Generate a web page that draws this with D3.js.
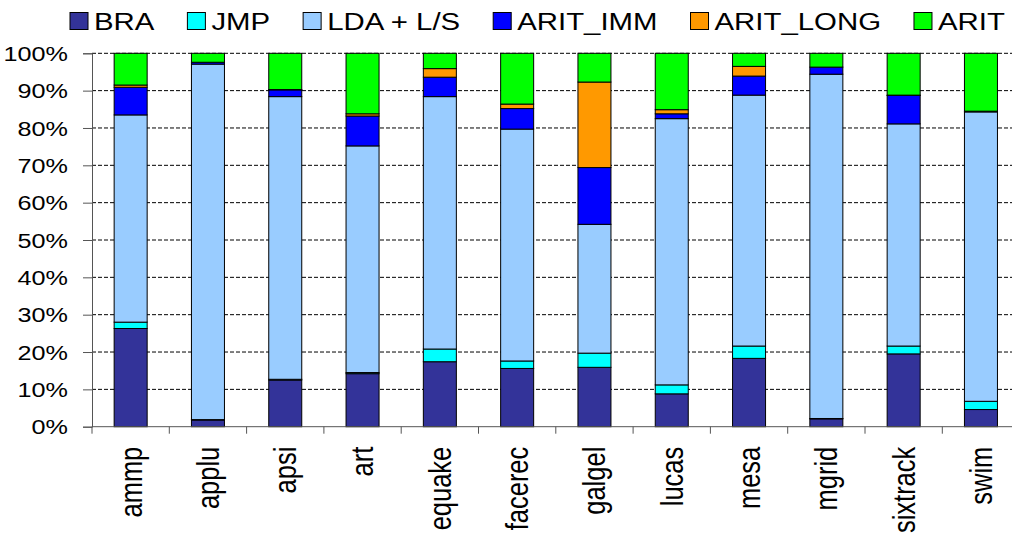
<!DOCTYPE html>
<html>
<head>
<meta charset="utf-8">
<script src="https://cdn.jsdelivr.net/npm/d3@7"></script>
<style>
  body { margin: 0; background: #fff; }
  text { font-family: "Liberation Sans", Arial, sans-serif; fill: #000; }
</style>
</head>
<body>
<div id="container"></div>
<script>
/** DATA */
const categories = ["ammp", "applu", "apsi", "art", "equake", "facerec", "galgel", "lucas", "mesa", "mgrid", "sixtrack", "swim"];
const seriesNames = ["BRA", "JMP", "LDA + L/S", "ARIT_IMM", "ARIT_LONG", "ARIT"];
const BRA      = [26.3, 1.8, 12.5, 14.2, 17.4, 15.6, 15.9, 8.8, 18.3, 2.1, 19.5, 4.6];
const JMP      = [1.7, 0.1, 0.2, 0.3, 3.4, 2.0, 3.8, 2.4, 3.3, 0.1, 2.1, 2.2];
const LDA_LS   = [55.5, 95.2, 75.7, 60.7, 67.6, 62.1, 34.5, 71.3, 67.2, 92.2, 59.5, 77.5];
const ARIT_IMM = [7.4, 0.5, 1.8, 8.0, 5.2, 5.5, 15.2, 1.3, 5.1, 1.9, 7.6, 0.2];
const ARIT_LONG= [0.6, 0, 0.1, 0.6, 2.3, 1.2, 22.9, 1.1, 2.6, 0, 0.1, 0];
const ARIT     = [8.5, 2.4, 9.7, 16.2, 4.1, 13.6, 7.7, 15.1, 3.5, 3.7, 11.2, 15.5];
const yTicks = [0, 0.1, 0.2, 0.3, 0.4, 0.5, 0.6, 0.7, 0.8, 0.9, 1];

/** CONSTANTS */
const width = 1012, height = 538;
const margin = { top: 53.3, bottom: 111.3, left: 92, right: -7.6 };
const colors = ["#333399", "#00ffff", "#99ccff", "#0000ff", "#ff9900", "#00ff00"];
const stretch = 1.2; // text in the original is a bit wide

const seriesValues = [BRA, JMP, LDA_LS, ARIT_IMM, ARIT_LONG, ARIT];
const rows = categories.map((c, i) => {
  const r = { cat: c };
  seriesNames.forEach((s, j) => r[s] = seriesValues[j][i]);
  return r;
});

const svg = d3.select("#container").append("svg")
  .attr("width", width)
  .attr("height", height);

const x = d3.scaleBand()
  .domain(categories)
  .range([margin.left, width - margin.right])
  .paddingInner(0.573)
  .paddingOuter(0.2865);

const y = d3.scaleLinear()
  .domain([0, 1])
  .range([height - margin.bottom, margin.top]);

const stack = d3.stack()
  .keys(seriesNames)
  .offset(d3.stackOffsetExpand);
const stacked = stack(rows);

// dashed gridlines
svg.append("g")
  .selectAll("line")
  .data(yTicks.slice(1))
  .join("line")
  .attr("x1", margin.left)
  .attr("x2", width - margin.right)
  .attr("y1", d => y(d))
  .attr("y2", d => y(d))
  .attr("stroke", "#000")
  .attr("stroke-width", 1)
  .attr("stroke-dasharray", "4,2");

// bars
svg.append("g")
  .selectAll("g")
  .data(stacked)
  .join("g")
  .attr("fill", (d, i) => colors[i])
  .selectAll("rect")
  .data(d => d)
  .join("rect")
  .attr("x", d => x(d.data.cat))
  .attr("width", x.bandwidth())
  .attr("y", d => y(d[1]))
  .attr("height", d => y(d[0]) - y(d[1]))
  .attr("stroke", "#000")
  .attr("stroke-width", 1);

// y axis
const yAxis = svg.append("g")
  .attr("transform", `translate(${margin.left},0)`)
  .call(d3.axisLeft(y).tickValues(yTicks).tickSize(9).tickFormat(""));
yAxis.select(".domain").attr("stroke", "#555");
yAxis.selectAll(".tick line").attr("stroke", "#555");

svg.append("g")
  .selectAll("text")
  .data(yTicks)
  .join("text")
  .attr("transform", d => `translate(68,${y(d)}) scale(${stretch},1)`)
  .attr("text-anchor", "end")
  .attr("dy", "0.36em")
  .style("font-size", "21px")
  .text(d3.format(".0%"));

// x axis with ticks between categories
const step = x.step();
const xTicks = d3.range(categories.length + 1).map(i => margin.left + i * step);
svg.append("line")
  .attr("x1", margin.left)
  .attr("x2", width - margin.right)
  .attr("y1", y(0))
  .attr("y2", y(0))
  .attr("stroke", "#555");
svg.append("g")
  .selectAll("line")
  .data(xTicks)
  .join("line")
  .attr("x1", d => d)
  .attr("x2", d => d)
  .attr("y1", y(0))
  .attr("y2", y(0) + 7)
  .attr("stroke", "#555");

svg.append("g")
  .selectAll("text")
  .data(categories)
  .join("text")
  .attr("transform", d => `translate(${x(d) + x.bandwidth() / 2},${y(0) + 20}) rotate(-90) scale(1,1.25)`)
  .attr("text-anchor", "end")
  .attr("dy", "0.34em")
  .style("font-size", "25.5px")
  .text(d => d);

// legend
const legend = svg.append("g");
const legendStretch = 1.25;
let lx = 70;
seriesNames.forEach((s, i) => {
  const g = legend.append("g");
  g.append("rect")
    .attr("x", lx)
    .attr("y", 12.5)
    .attr("width", 18)
    .attr("height", 17)
    .attr("fill", colors[i])
    .attr("stroke", "#000")
    .attr("stroke-width", 1);
  const t = g.append("text")
    .attr("transform", `translate(${lx + 24},29.5) scale(${legendStretch},1)`)
    .style("font-size", "23.5px")
    .text(s);
  const w = t.node().getComputedTextLength() * legendStretch;
  lx += 24 + w + 33;
});
</script>
</body>
</html>
